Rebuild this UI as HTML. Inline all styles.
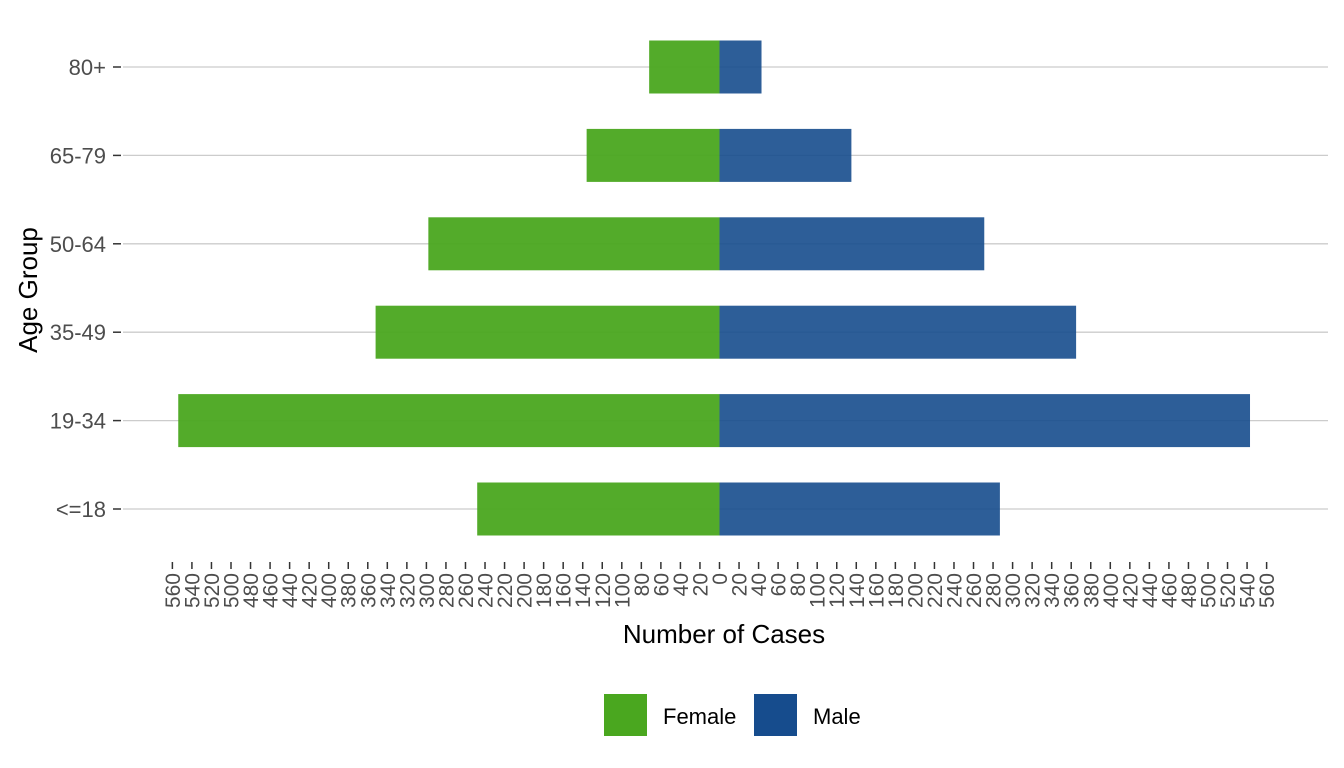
<!DOCTYPE html>
<html><head><meta charset="utf-8"><style>
body{margin:0;background:#fff;}
svg{display:block;font-family:"Liberation Sans",Arial,sans-serif;}
</style></head><body>
<svg id="chart" width="1344" height="768">
<g id="grid"></g>
<g id="bars"></g>
<g id="yaxis"></g>
<g id="xaxis"></g>
<text x="724" y="643" font-size="26" text-anchor="middle" fill="#000">Number of Cases</text>
<text transform="translate(37,290) rotate(-90)" font-size="26" text-anchor="middle" fill="#000">Age Group</text>
<g>
<g>
<rect x="604" y="694" width="43" height="42" fill="#4aa71f"/>
<text x="663" y="724" font-size="22" fill="#000">Female</text></g>
<g>
<rect x="754" y="694" width="43" height="42" fill="#164c8d"/>
<text x="813" y="724" font-size="22" fill="#000">Male</text></g>
</g>
</svg>
<script>
const categories = ["<=18","19-34","35-49","50-64","65-79","80+"];
const femaleValues = [248,554,352,298,136,72];
const maleValues = [287,543,365,271,135,43];
const tickValues = [];
for (let v = -560; v <= 560; v += 20) tickValues.push(v);

const NS = "http://www.w3.org/2000/svg";
const x0 = 719.5, pxPer = 0.977;
const xScale = v => x0 + v * pxPer;
const yTop = 509, yStep = 88.4;
const yScale = i => yTop - i * yStep;
const barH = 53;
function mk(tag, attrs, parent){const e=document.createElementNS(NS,tag);for(const k in attrs)e.setAttribute(k,attrs[k]);parent.appendChild(e);return e;}
const grid=document.getElementById('grid'),bars=document.getElementById('bars'),yaxis=document.getElementById('yaxis'),xaxis=document.getElementById('xaxis');

categories.forEach((c,i)=>{
  const y=yScale(i);
  const g=mk('line',{x1:123,x2:1328,y1:y,y2:y,stroke:'#cccccc','stroke-width':1.3},grid);
  
  
  const t=mk('line',{x1:113,x2:121,y1:y,y2:y,stroke:'#333','stroke-width':1.5},yaxis);
  
  
  const l=mk('text',{x:106,y:y+8,'font-size':22,'text-anchor':'end',fill:'#4d4d4d'},yaxis);
  l.textContent=c;
  
  
  const fx=xScale(-femaleValues[i]);
  const fb=mk('rect',{x:fx,y:y-barH/2,width:x0-fx,height:barH,fill:'#4aa71f','fill-opacity':0.95},bars);
  
  
  const mb=mk('rect',{x:x0,y:y-barH/2,width:xScale(maleValues[i])-x0,height:barH,fill:'#164c8d','fill-opacity':0.9},bars);
  
  
});
tickValues.forEach(v=>{
  const x=xScale(v);
  const t=mk('line',{x1:x,x2:x,y1:562,y2:569,stroke:'#333','stroke-width':1.5},xaxis);
  
  
  const l=mk('text',{transform:`translate(${x+7.5},573) rotate(-90)`,'font-size':21,'text-anchor':'end',fill:'#4d4d4d'},xaxis);
  l.textContent=Math.abs(v);
  
  
});
</script>
</body></html>
